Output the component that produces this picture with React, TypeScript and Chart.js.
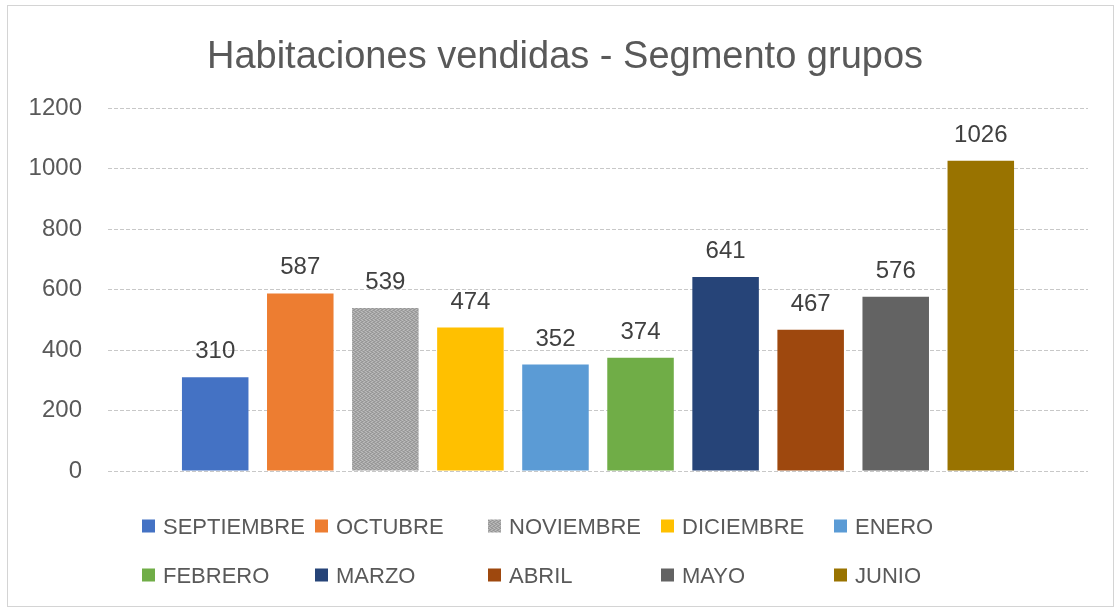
import React, { useEffect, useRef } from "react";
import { Chart, registerables } from "chart.js";

Chart.register(...registerables);

const title = "Habitaciones vendidas - Segmento grupos";
const months = ["SEPTIEMBRE", "OCTUBRE", "NOVIEMBRE", "DICIEMBRE", "ENERO", "FEBRERO", "MARZO", "ABRIL", "MAYO", "JUNIO"];
const values = [310, 587, 539, 474, 352, 374, 641, 467, 576, 1026];
const colors = ["#4472C4", "#ED7D31", "#A5A5A5", "#FFC000", "#5B9BD5", "#70AD47", "#264478", "#9E480E", "#636363", "#997300"];
const patterned = [false, false, true, false, false, false, false, false, false, false];
const yTicks = [0, 200, 400, 600, 800, 1000, 1200];

const FONT = "'Liberation Sans', Arial, sans-serif";

function makePattern(ctx: CanvasRenderingContext2D, base: string): CanvasPattern | string {
  const c = document.createElement("canvas");
  c.width = 4;
  c.height = 4;
  const x = c.getContext("2d");
  if (!x) return base;
  x.fillStyle = base;
  x.fillRect(0, 0, 4, 4);
  x.fillStyle = "#949494";
  [[0, 0], [2, 1], [1, 2], [3, 3]].forEach(([a, b]) => x.fillRect(a, b, 1, 1));
  x.fillStyle = "#bcbcbc";
  [[2, 0], [0, 1], [3, 2], [1, 3]].forEach(([a, b]) => x.fillRect(a, b, 1, 1));
  return ctx.createPattern(c, "repeat") || base;
}

const overlayPlugin = {
  id: "overlay",
  afterDraw(chart: any) {
    const ctx: CanvasRenderingContext2D = chart.ctx;
    ctx.save();
    // frame
    ctx.strokeStyle = "#d4d4d4";
    ctx.lineWidth = 1;
    ctx.strokeRect(7.5, 5.5, 1106, 601);
    // title
    ctx.fillStyle = "#595959";
    ctx.font = `38px ${FONT}`;
    ctx.textAlign = "center";
    ctx.textBaseline = "alphabetic";
    ctx.fillText(title, 565, 68);
    // data labels
    ctx.font = `24px ${FONT}`;
    ctx.fillStyle = "#404040";
    chart.data.datasets.forEach((ds: any, i: number) => {
      const meta = chart.getDatasetMeta(i);
      const el = meta.data[0];
      if (!el) return;
      ctx.fillText(String(ds.data[0]), el.x, el.y - 19);
    });
    // legend
    ctx.font = `22px ${FONT}`;
    ctx.textAlign = "left";
    chart.data.datasets.forEach((ds: any, i: number) => {
      const col = i % 5;
      const row = Math.floor(i / 5);
      const x = 142 + col * 173;
      const cy = 526 + row * 49;
      ctx.fillStyle = ds.backgroundColor;
      ctx.fillRect(x, cy - 6.5, 13, 13);
      ctx.fillStyle = "#595959";
      ctx.fillText(ds.label, x + 21, cy + 8);
    });
    ctx.restore();
  },
};

export default function App() {
  const ref = useRef<HTMLCanvasElement | null>(null);

  useEffect(() => {
    const canvas = ref.current;
    if (!canvas) return;
    const ctx = canvas.getContext("2d");
    if (!ctx) return;
    const datasets = months.map((m, i) => ({
      label: m,
      data: [values[i]],
      backgroundColor: patterned[i] ? makePattern(ctx, colors[i]) : colors[i],
      borderWidth: 0,
      categoryPercentage: 0.868,
      barPercentage: 0.782,
    }));
    const chart = new Chart(canvas, {
      type: "bar",
      data: { labels: [""], datasets },
      options: {
        responsive: false,
        animation: false,
        layout: { padding: { left: 0, right: 27, top: 108, bottom: 136 } },
        plugins: {
          legend: { display: false },
          title: { display: false },
          tooltip: { enabled: false },
        },
        scales: {
          x: { display: false },
          y: {
            min: 0,
            max: 1200,
            afterBuildTicks: (s: any) => {
              s.ticks = yTicks.map((v) => ({ value: v }));
            },
            afterFit: (s: any) => {
              s.width = 108;
            },
            border: { display: false, dash: [4, 2] },
            grid: {
              color: "#c8c8c8",
              lineWidth: 1,
              drawTicks: false,
            },
            ticks: {
              padding: 26,
              color: "#595959",
              font: { family: FONT, size: 24 },
              callback: (v: any) => String(v),
            },
          },
        },
      },
      plugins: [overlayPlugin],
    } as any);
    return () => chart.destroy();
  }, []);

  return (
    <div style={{ position: "absolute", left: 0, top: 0, width: 1115, height: 607, background: "#ffffff" }}>
      <canvas ref={ref} width={1115} height={607} style={{ display: "block", width: 1115, height: 607 }} />
    </div>
  );
}
